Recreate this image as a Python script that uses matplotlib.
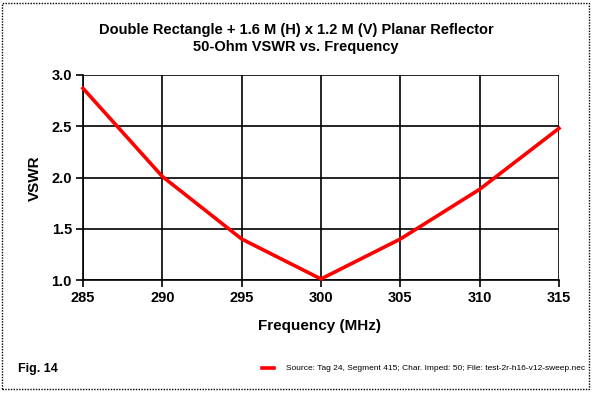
import matplotlib
matplotlib.use("Agg")
import matplotlib.pyplot as plt
from matplotlib.patches import Rectangle

plt.rcParams["font.family"] = ["Liberation Sans", "DejaVu Sans"]

freq_mhz = [285, 290, 295, 300, 305, 310, 315]
vswr = [2.87, 2.01, 1.40, 1.01, 1.40, 1.885, 2.48]
x_ticks = [285, 290, 295, 300, 305, 310, 315]
y_ticks = [1.0, 1.5, 2.0, 2.5, 3.0]
legend_label = "Source: Tag 24, Segment 415; Char. Imped: 50; File: test-2r-h16-v12-sweep.nec"

W, H = 592, 394
fig = plt.figure(figsize=(W / 100, H / 100), dpi=100)
ax = fig.add_axes([83 / W, 1 - 280 / H, (559 - 83) / W, (280 - 75) / H])

ax.plot(freq_mhz, vswr, color="#ff0000", lw=2.6, solid_joinstyle="round", clip_on=False, zorder=3)

ax.set_xlim(285, 315)
ax.set_ylim(1.0, 3.0)
ax.set_xticks(x_ticks)
ax.set_yticks(y_ticks)
ax.set_yticklabels([f"{v:.1f}" for v in y_ticks])
ax.grid(True, color="black", lw=1.2)
ax.tick_params(direction="out", length=5, width=1.2, colors="black", labelsize=10.5, pad=3)
for lab in ax.get_xticklabels() + ax.get_yticklabels():
    lab.set_fontweight("bold")
for side in ["top", "right"]:
    ax.spines[side].set_visible(False)
for side in ["left", "bottom"]:
    ax.spines[side].set_linewidth(1.2)

fig.text(320 / W, 1 - 326 / H, "Frequency (MHz)", ha="center", va="center",
         fontsize=11, fontweight="bold")
fig.text(35 / W, 1 - 178 / H, "VSWR", ha="center", va="center", rotation=90,
         fontsize=11, fontweight="bold")
fig.text(296 / W, 1 - 30 / H, "Double Rectangle + 1.6 M (H) x 1.2 M (V) Planar Reflector",
         ha="center", va="center", fontsize=10.5, fontweight="bold")
fig.text(296 / W, 1 - 47 / H, "50-Ohm VSWR vs. Frequency",
         ha="center", va="center", fontsize=10.5, fontweight="bold")
fig.text(18 / W, 1 - 369 / H, "Fig. 14", ha="left", va="center",
         fontsize=9, fontweight="bold")

# legend: short red sample plus its text
fig.add_artist(plt.Line2D([262 / W, 274 / W], [1 - 368 / H, 1 - 368 / H],
                          color="#ff0000", lw=2.6, transform=fig.transFigure))
fig.text(286 / W, 1 - 368 / H, legend_label, ha="left", va="center", fontsize=6.0)

# dotted figure border
fig.add_artist(Rectangle((2 / W, 1 - 389 / H), 587 / W, 386 / H, transform=fig.transFigure,
                         fill=False, ec="black", lw=1, ls=(0, (1, 1))))

fig.savefig("out.png", dpi=100)
